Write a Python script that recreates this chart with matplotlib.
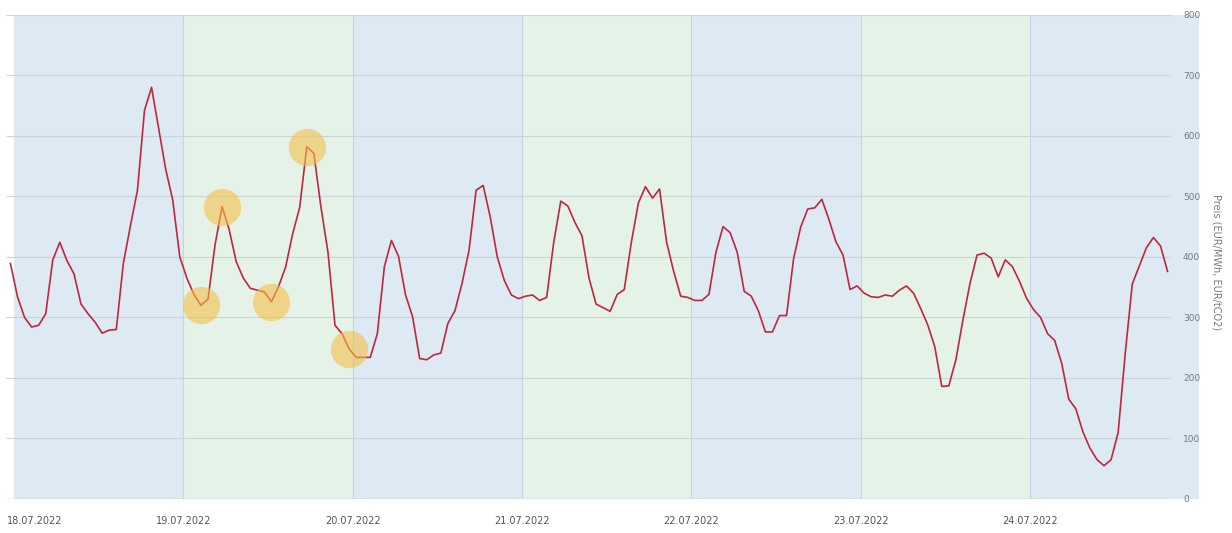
import matplotlib
matplotlib.use('Agg')
import matplotlib.pyplot as plt
import matplotlib.transforms as mtransforms
import numpy as np

# hourly price per day (EUR/MWh), 18.07.2022 - 24.07.2022 (last day until ~20:00)
day_18 = [389, 334, 300, 284, 287, 306, 395, 424, 394, 372, 322, 306,
          292, 274, 279, 280, 389, 451, 510, 642, 680, 612, 545, 494]
day_19 = [400, 365, 338, 320, 330, 420, 483, 445, 392, 365, 348, 345,
          342, 326, 351, 383, 438, 482, 582, 571, 483, 408, 287, 273]
day_20 = [248, 234, 234, 234, 273, 384, 427, 401, 337, 301, 232, 230,
          238, 241, 290, 311, 356, 411, 510, 518, 466, 400, 361, 337]
day_21 = [331, 335, 337, 328, 333, 424, 492, 484, 457, 435, 365, 322,
          316, 310, 338, 346, 424, 489, 516, 497, 512, 424, 376, 335]
day_22 = [333, 328, 328, 338, 408, 450, 440, 408, 343, 335, 311, 276,
          276, 303, 303, 397, 449, 479, 481, 495, 462, 425, 403, 346]
day_23 = [352, 340, 334, 333, 337, 335, 345, 352, 340, 315, 288, 252,
          186, 187, 230, 296, 356, 403, 406, 398, 367, 395, 384, 360]
day_24 = [332, 313, 300, 273, 262, 224, 165, 149, 111, 84, 65, 55,
          65, 110, 240, 355, 385, 415, 432, 418, 376]

day_labels = ['18.07.2022', '19.07.2022', '20.07.2022', '21.07.2022',
              '22.07.2022', '23.07.2022', '24.07.2022']
y_ticks = [0, 100, 200, 300, 400, 500, 600, 700, 800]
highlight_idx = [27, 30, 37, 42, 48]

price = np.array(day_18 + day_19 + day_20 + day_21 + day_22 + day_23 + day_24)
hours = np.arange(len(price)) - 0.5   # hours since 18.07.2022 00:00

band_colors = ['#dde9f3', '#e4f2e7']

fig = plt.figure(figsize=(12.32, 5.33), dpi=100)
ax = fig.add_axes([6 / 1232, 1 - 499 / 533, 1194 / 1232, 484.3 / 533])
ax.set_xlim(-1.13, 168.1)
ax.set_ylim(0, 800)

# day bands
for d in range(len(day_labels)):
    ax.axvspan(d * 24, (d + 1) * 24, color=band_colors[d % 2], lw=0, zorder=0)
    if d > 0:
        ax.axvline(d * 24, color='#c4d6e2', lw=0.8, zorder=1)

# grid lines (stop before the tick labels)
ax.hlines(y_ticks[1:], -1.13, 163.9, colors='#ccd3d9', lw=0.8, zorder=1)
ax.hlines(0, -1.13, 163.9, colors='#c3c3c3', lw=1.0, zorder=1)

ax.plot(hours, price, color='#c0263d', lw=1.2, zorder=3)

# highlighted hours
ax.scatter(hours[highlight_idx], price[highlight_idx], s=720, color='#f5c04a',
           alpha=0.6, lw=0, zorder=4)

for s in ax.spines.values():
    s.set_visible(False)

ax.set_xticks([d * 24 for d in range(len(day_labels))])
ax.set_xticklabels(day_labels)
ax.tick_params(axis='x', length=0, pad=12, labelsize=7, labelcolor='#555555')
first = ax.get_xticklabels()[0]
first.set_transform(first.get_transform() +
                    mtransforms.ScaledTranslation(21 / 100, 0, fig.dpi_scale_trans))

ax.yaxis.tick_right()
ax.set_yticks(y_ticks)
ax.tick_params(axis='y', length=0, pad=-12.2, labelsize=6.5, labelcolor='#7a7a7a')

fig.text(1217 / 1232, 1 - 262 / 533, 'Preis (EUR/MWh, EUR/tCO2)', rotation=-90,
         ha='center', va='center', fontsize=7, color='#7a7a7a')

plt.savefig('out.png', dpi=100)
plt.close()
